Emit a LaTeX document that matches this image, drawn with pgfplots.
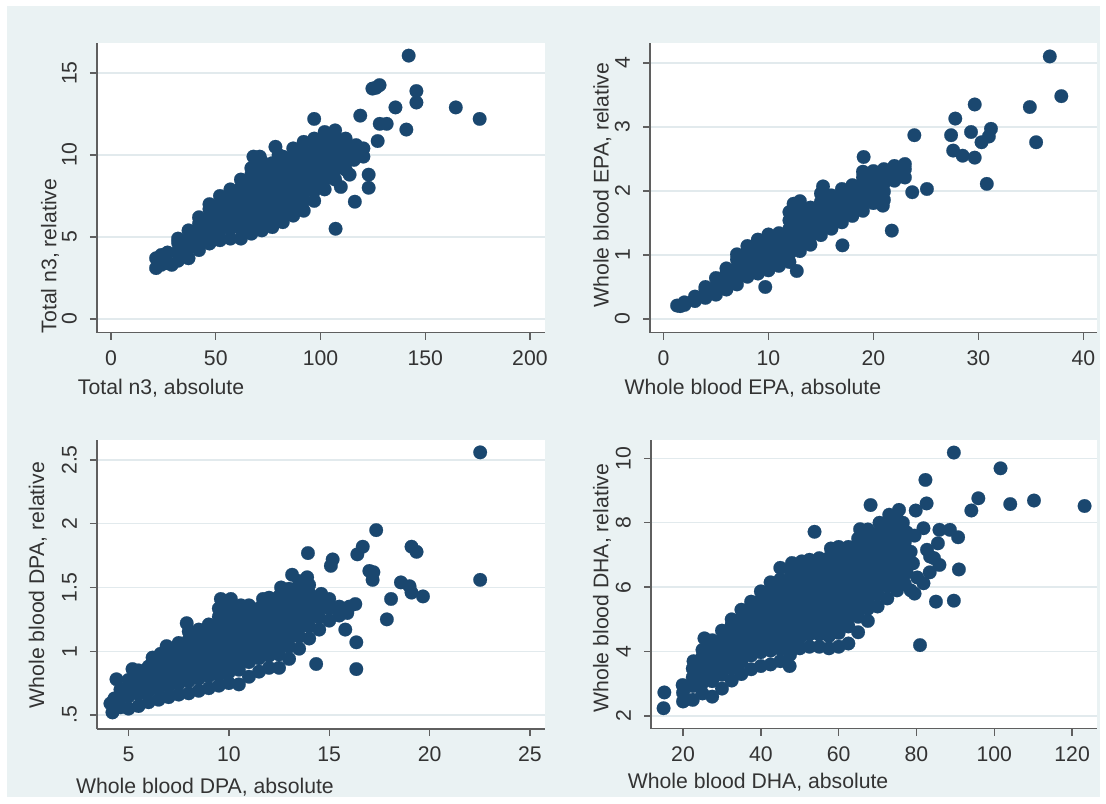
\documentclass[border=0pt]{standalone}
\usepackage{fontspec}
\setmainfont{Liberation Sans}
\usepackage{pgfplots}
\pgfplotsset{compat=1.18}

\definecolor{stnavy}{RGB}{26,71,111}
\definecolor{stbg}{RGB}{234,242,243}
\definecolor{stgrid}{RGB}{226,234,237}
\definecolor{staxis}{RGB}{95,95,95}

\pgfplotsset{
  stata/.style={
    scale only axis, clip=false,
    axis lines*=left,
    axis line style={staxis, line width=0.7pt, -},
    tick align=outside, major tick length=3.5pt,
    tick style={staxis, line width=0.7pt},
    ymajorgrids, major grid style={stgrid, line width=0.7pt},
    axis background/.style={fill=white},
    font=\fontsize{10.6}{12}\selectfont,
    tick label style={font=\fontsize{10.6}{12}\selectfont, text=black!80},
    label style={font=\fontsize{10.6}{12}\selectfont, text=black!80},
    /pgf/number format/assume math mode=true,
    yticklabel style={rotate=90, anchor=south},
    yticklabel shift=3pt, xticklabel shift=2pt,
  },
  dots/.style={only marks, mark=*, mark size=3.4pt, color=stnavy,
    mark options={fill=stnavy, draw=stnavy, line width=0.1pt}},
}

\begin{document}
\begin{tikzpicture}
\fill[white] (0,0) rectangle (553pt,401.5pt);
\fill[stbg] (3.5pt,3pt) rectangle (550pt,398.5pt);

% top left: total n3
\begin{axis}[stata, at={(48.5pt,235.15pt)}, anchor=south west,
  width=224pt, height=144.85pt,
  xmin=-6.7, xmax=207.2, ymin=-0.84, ymax=16.83,
  xtick={0,50,100,150,200}, ytick={0,5,10,15},
  xlabel={Total n3, absolute}, ylabel={Total n3, relative},
  xlabel style={at={(axis description cs:0.143,-0.19)}, anchor=center},
  ylabel style={at={(axis description cs:-0.105,0.265)}, anchor=center}]
\addplot[dots] coordinates {
 (21.5,3.1)(21.5,3.7)(24,3.3)(24,3.9)
 (27,3.4)(27,4.05)(29,3.3)
 (32,3.55)(32,4.15)(32,4.65)(32,4.9)
 (37,3.7)(37,4.35)(37,4.85)(37,5.4)
 (42,4.2)(42,4.8)(42,5.3)(42,5.8)(42,6.2)
 (47,4.6)(47,5.2)(47,5.7)(47,6.2)(47,6.7)(47,7.0)
 (52,4.8)(52,5.4)(52,5.9)(52,6.4)(52,6.9)(52,7.5)
 (57,4.9)(57,5.5)(57,6.0)(57,6.5)(57,7.0)(57,7.5)(57,7.9)
 (62,4.9)(62,5.5)(62,6.0)(62,6.5)(62,7.0)(62,7.5)(62,8.0)(62,8.5)
 (67,5.2)(67,5.8)(67,6.3)(67,6.8)(67,7.3)(67,7.8)(67,8.3)(67,8.8)(67,9.2)
 (68,9.9)(71,9.9)(72,9.6)
 (72,5.4)(72,6.0)(72,6.5)(72,7.0)(72,7.5)(72,8.0)(72,8.5)(72,9.0)
 (77,5.6)(77,6.2)(77,6.7)(77,7.2)(77,7.7)(77,8.2)(77,8.7)(77,9.2)(77,9.5)
 (78.5,10.5)(80,10.0)
 (82,5.9)(82,6.5)(82,7.0)(82,7.5)(82,8.0)(82,8.5)(82,9.0)(82,9.5)(82,9.9)
 (87,6.3)(87,6.9)(87,7.4)(87,7.9)(87,8.4)(87,8.9)(87,9.4)(87,9.9)(87,10.4)
 (92,6.6)(92,7.2)(92,7.7)(92,8.2)(92,8.7)(92,9.2)(92,9.7)(92,10.2)(92,10.8)
 (97,7.2)(97,7.8)(97,8.3)(97,8.8)(97,9.3)(97,9.8)(97,10.3)(97,10.8)(97,11.0)
 (97,12.2)
 (102,7.9)(102,8.5)(102,9.0)(102,9.5)(102,10.0)(102,10.5)(102,11.0)(102,11.4)
 (107,8.5)(107,9.1)(107,9.6)(107,10.1)(107,10.6)(107,11.1)(107,11.5)
 (112,9.1)(112,9.6)(112,10.1)(112,10.6)(112,11.0)
 (116,9.7)(116,10.2)(117,10.6)(120.5,10.4)(120.5,9.9)
 (107.2,5.5)(116.4,7.15)(113.9,8.8)(109.7,8.05)(123,8.8)(123,8.0)
 (127.3,10.85)(128.3,11.9)(131.6,11.9)(119,12.4)(124.8,14.05)(126.5,14.1)
 (128.2,14.26)(135.8,12.9)(141,11.55)(142.1,16.06)(145.8,13.9)(145.8,13.2)
 (164.6,12.9)(176,12.2)
};
\end{axis}

% top right: EPA
\begin{axis}[stata, at={(325pt,235.15pt)}, anchor=south west,
  width=223.5pt, height=144.85pt,
  xmin=-1.28, xmax=41.3, ymin=-0.214, ymax=4.31,
  xtick={0,10,20,30,40}, ytick={0,1,2,3,4},
  xlabel={Whole blood EPA, absolute}, ylabel={Whole blood EPA, relative},
  xlabel style={at={(axis description cs:0.23,-0.19)}, anchor=center},
  ylabel style={at={(axis description cs:-0.107,0.51)}, anchor=center}]
\addplot[dots] coordinates {
 (1.3,0.21)(1.6,0.2)(2,0.22)(2,0.26)(3,0.28)(3,0.35)
 (4,0.33)(4,0.46)(4,0.5)
 (5,0.38)(5,0.51)(5,0.64)
 (6,0.46)(6,0.59)(6,0.72)(6,0.79)
 (7,0.54)(7,0.67)(7,0.8)(7,0.93)(7,1.01)
 (8,0.66)(8,0.79)(8,0.92)(8,1.05)(8,1.14)
 (9,0.71)(9,0.84)(9,0.97)(9,1.1)(9,1.23)(9,1.24)
 (10,0.76)(10,0.89)(10,1.02)(10,1.15)(10,1.28)(10,1.32)
 (11,0.83)(11,0.96)(11,1.09)(11,1.22)(11,1.34)
 (12,0.89)(12,1.02)(12,1.15)(12,1.28)(12,1.41)(12,1.54)(12,1.67)(12.4,1.8)
 (13,1.06)(13,1.19)(13,1.32)(13,1.45)(13,1.58)(13,1.71)(13,1.84)
 (14,1.16)(14,1.29)(14,1.42)(14,1.55)(14,1.68)(14,1.74)
 (15,1.31)(15,1.44)(15,1.57)(15,1.7)(15,1.83)(15,1.96)(15.2,2.07)
 (16,1.41)(16,1.54)(16,1.67)(16,1.8)(16,1.93)
 (17,1.51)(17,1.64)(17,1.77)(17,1.9)(17,2.03)
 (18,1.61)(18,1.74)(18,1.87)(18,2.0)(18,2.09)
 (19,1.69)(19,1.82)(19,1.95)(19,2.08)(19,2.21)(19,2.3)(19.07,2.53)
 (20,1.81)(20,1.94)(20,2.07)(20,2.2)(20,2.31)
 (21,1.86)(21,1.99)(21,2.12)(21,2.25)(21,2.34)
 (22,2.16)(22,2.29)(22,2.39)
 (23,2.21)(23,2.34)(23,2.42)
 (9.7,0.5)(12.7,0.75)(17.05,1.15)(21.75,1.38)(20.9,1.77)(23.7,1.98)
 (25.1,2.03)(23.9,2.87)(27.4,2.87)(27.8,3.13)(27.6,2.63)(28.5,2.55)
 (29.3,2.92)(29.65,3.35)(29.65,2.52)(30.3,2.76)(31.2,2.97)(31.0,2.85)
 (30.8,2.11)(34.9,3.31)(35.5,2.76)(36.8,4.1)(37.9,3.48)
};
\end{axis}

% bottom left: DPA
\begin{axis}[stata, at={(48.5pt,37pt)}, anchor=south west,
  width=224pt, height=144.5pt,
  xmin=3.43, xmax=25.75, ymin=0.39, ymax=2.657,
  xtick={5,10,15,20,25}, ytick={0.5,1,1.5,2,2.5},
  yticklabels={.5,1,1.5,2,2.5},
  xlabel={Whole blood DPA, absolute}, ylabel={Whole blood DPA, relative},
  xlabel style={at={(axis description cs:0.241,-0.2)}, anchor=center},
  ylabel style={at={(axis description cs:-0.132,0.498)}, anchor=center}]
\addplot[dots] coordinates {
 (4.1,0.59)(4.2,0.52)(4.3,0.63)
 (4.6,0.56)(4.6,0.635)(4.6,0.7)(4.4,0.78)
 (5.0,0.55)(5.0,0.645)(5.0,0.71)(5.0,0.775)(5.2,0.86)
 (5.5,0.57)(5.5,0.665)(5.5,0.73)(5.5,0.795)(5.5,0.85)
 (6.0,0.6)(6.0,0.685)(6.0,0.75)(6.0,0.815)(6.0,0.88)(6.2,0.95)
 (6.5,0.62)(6.5,0.705)(6.5,0.77)(6.5,0.835)(6.5,0.9)(6.6,0.98)
 (7.0,0.64)(7.0,0.725)(7.0,0.79)(7.0,0.855)(7.0,0.92)(7.0,0.985)(6.9,1.04)
 (7.5,0.66)(7.5,0.745)(7.5,0.81)(7.5,0.875)(7.5,0.94)(7.5,1.005)(7.5,1.065)
 (8.0,0.67)(8.0,0.765)(8.0,0.83)(8.0,0.895)(8.0,0.96)(8.0,1.025)(8.0,1.09)(8.0,1.155)(7.9,1.22)
 (8.5,0.69)(8.5,0.785)(8.5,0.85)(8.5,0.915)(8.5,0.98)(8.5,1.045)(8.5,1.11)(8.5,1.17)
 (9.0,0.71)(9.0,0.805)(9.0,0.87)(9.0,0.935)(9.0,1.0)(9.0,1.065)(9.0,1.13)(9.0,1.21)
 (9.5,0.73)(9.5,0.815)(9.5,0.88)(9.5,0.945)(9.5,1.01)(9.5,1.075)(9.5,1.14)(9.5,1.205)(9.5,1.27)(9.5,1.335)(9.6,1.41)
 (10.0,0.75)(10.0,0.835)(10.0,0.9)(10.0,0.965)(10.0,1.03)(10.0,1.095)(10.0,1.16)(10.0,1.225)(10.0,1.29)(10.0,1.355)(10.1,1.41)
 (10.5,0.74)(10.5,0.855)(10.5,0.92)(10.5,0.985)(10.5,1.05)(10.5,1.115)(10.5,1.18)(10.5,1.245)(10.5,1.31)(10.6,1.36)
 (11.0,0.8)(11.0,0.915)(11.0,0.98)(11.0,1.045)(11.0,1.11)(11.0,1.175)(11.0,1.24)(11.0,1.305)(11.0,1.36)
 (11.5,0.84)(11.5,0.945)(11.5,1.01)(11.5,1.075)(11.5,1.14)(11.5,1.205)(11.5,1.27)(11.5,1.335)(11.7,1.41)
 (12.0,0.87)(12.0,0.965)(12.0,1.03)(12.0,1.095)(12.0,1.16)(12.0,1.225)(12.0,1.29)(12.0,1.355)(12.0,1.42)
 (12.5,0.87)(12.5,0.975)(12.5,1.04)(12.5,1.105)(12.5,1.17)(12.5,1.235)(12.5,1.3)(12.5,1.365)(12.5,1.43)(12.6,1.5)
 (13.0,0.94)(13.0,1.035)(13.0,1.1)(13.0,1.165)(13.0,1.23)(13.0,1.295)(13.0,1.36)(13.0,1.425)(13.0,1.49)(13.15,1.6)
 (13.5,1.02)(13.5,1.115)(13.5,1.18)(13.5,1.245)(13.5,1.31)(13.5,1.375)(13.5,1.44)(13.5,1.505)(13.5,1.55)
 (14.0,1.1)(14.0,1.195)(14.0,1.26)(14.0,1.325)(14.0,1.39)(14.0,1.455)(14.0,1.52)
 (14.5,1.17)(14.5,1.265)(14.5,1.33)(14.5,1.395)(14.6,1.45)
 (15.0,1.24)(15.0,1.335)(15.0,1.41)(15.5,1.28)(15.5,1.35)(16.0,1.35)(16.3,1.37)
 (13.94,1.77)(13.9,1.58)(14.35,0.9)(16.35,0.86)(16.35,1.07)(15.8,1.17)
 (15.9,1.3)(15.08,1.67)(15.17,1.72)(16.4,1.76)(16.67,1.82)(17.34,1.95)
 (17.0,1.63)(17.2,1.62)(17.16,1.56)(17.87,1.25)(18.08,1.41)(18.57,1.54)
 (19.0,1.51)(19.1,1.46)(19.1,1.82)(19.35,1.78)(19.67,1.43)
 (22.52,2.56)(22.52,1.56)
};
\end{axis}

% bottom right: DHA
\begin{axis}[stata, at={(325.5pt,37.25pt)}, anchor=south west,
  width=223pt, height=144.25pt,
  xmin=11.77, xmax=126.4, ymin=1.61, ymax=10.57,
  xtick={20,40,60,80,100,120}, ytick={2,4,6,8,10},
  xlabel={Whole blood DHA, absolute}, ylabel={Whole blood DHA, relative},
  xlabel style={at={(axis description cs:0.24,-0.185)}, anchor=center},
  ylabel style={at={(axis description cs:-0.11,0.487)}, anchor=center}]
\addplot[dots] coordinates {
 (15.0,2.24)(15.2,2.73)
 (20,2.45)(20,2.72)(19.9,2.96)(20.5,2.5)
 (22.5,2.5)(22.5,2.93)(22.5,3.2)(22.5,3.47)(22.7,3.7)
 (25,2.7)(25,3.03)(25,3.3)(25,3.57)(25,3.84)(25,4.05)(25.5,4.41)
 (27.5,2.6)(27.5,3.08)(27.5,3.35)(27.5,3.62)(27.5,3.89)(27.5,4.16)(27.5,4.35)
 (30,2.85)(30,3.28)(30,3.55)(30,3.82)(30,4.09)(30,4.36)(30,4.65)
 (32.5,3.1)(32.5,3.48)(32.5,3.75)(32.5,4.02)(32.5,4.29)(32.5,4.56)(32.5,4.83)(32.5,5.0)
 (35,3.3)(35,3.68)(35,3.95)(35,4.22)(35,4.49)(35,4.76)(35,5.03)(35,5.3)
 (37.5,3.45)(37.5,3.88)(37.5,4.15)(37.5,4.42)(37.5,4.69)(37.5,4.96)(37.5,5.23)(37.5,5.55)
 (40,3.55)(40,3.98)(40,4.25)(40,4.52)(40,4.79)(40,5.06)(40,5.33)(40,5.6)(40,5.87)
 (42.5,3.6)(42.5,4.03)(42.5,4.3)(42.5,4.57)(42.5,4.84)(42.5,5.11)(42.5,5.38)(42.5,5.65)(42.5,5.92)(42.5,6.15)
 (45,3.7)(45,4.08)(45,4.35)(45,4.62)(45,4.89)(45,5.16)(45,5.43)(45,5.7)(45,5.97)(45,6.24)(45,6.6)
 (47.4,3.55)(47.5,3.9)(47.5,4.1)(47.5,4.37)(47.5,4.64)(47.5,4.91)(47.5,5.18)(47.5,5.45)(47.5,5.72)(47.5,5.99)(47.5,6.26)(47.5,6.53)(48,6.75)
 (50,4.1)(50,4.43)(50,4.7)(50,4.97)(50,5.24)(50,5.51)(50,5.78)(50,6.05)(50,6.32)(50,6.59)(50.5,6.8)
 (52.5,4.15)(52.5,4.53)(52.5,4.8)(52.5,5.07)(52.5,5.34)(52.5,5.61)(52.5,5.88)(52.5,6.15)(52.5,6.42)(52.5,6.69)(52.5,6.85)
 (55,4.15)(55,4.53)(55,4.8)(55,5.07)(55,5.34)(55,5.61)(55,5.88)(55,6.15)(55,6.42)(55,6.69)(55,6.9)
 (57.5,4.1)(57.5,4.48)(57.5,4.75)(57.5,5.02)(57.5,5.29)(57.5,5.56)(57.5,5.83)(57.5,6.1)(57.5,6.37)(57.5,6.64)(57.5,6.91)(58,7.2)
 (60,4.15)(60,4.58)(60,4.85)(60,5.12)(60,5.39)(60,5.66)(60,5.93)(60,6.2)(60,6.47)(60,6.74)(60,7.01)(60,7.25)
 (62.5,4.25)(62.5,4.78)(62.5,5.05)(62.5,5.32)(62.5,5.59)(62.5,5.86)(62.5,6.13)(62.5,6.4)(62.5,6.67)(62.5,6.94)(62.5,7.25)
 (65,4.6)(65,5.08)(65,5.35)(65,5.62)(65,5.89)(65,6.16)(65,6.43)(65,6.7)(65,6.97)(65,7.24)(65,7.51)(65.5,7.8)
 (67.5,4.95)(67.5,5.33)(67.5,5.6)(67.5,5.87)(67.5,6.14)(67.5,6.41)(67.5,6.68)(67.5,6.95)(67.5,7.22)(67.5,7.49)(67.5,7.79)(68.2,8.55)
 (70,5.4)(70,5.78)(70,6.05)(70,6.32)(70,6.59)(70,6.86)(70,7.13)(70,7.4)(70,7.67)(70.5,8.0)
 (72.5,5.65)(72.5,6.03)(72.5,6.3)(72.5,6.57)(72.5,6.84)(72.5,7.11)(72.5,7.38)(72.5,7.65)(72.5,7.92)(73,8.25)
 (75,5.9)(75,6.23)(75,6.5)(75,6.77)(75,7.04)(75,7.31)(75,7.58)(75,7.85)(75,8.12)(75.5,8.4)
 (77,6.1)(77.5,6.45)(76.5,6.8)(77.5,7.1)(77,7.4)(77.5,7.7)(76.5,8.0)
 (53.8,7.72)(80.9,4.2)(85,5.55)(89.6,5.58)(90.9,6.55)(90.7,7.55)(88.6,7.78)
 (85.9,7.78)(81.8,7.83)(82.3,9.33)(82.6,8.6)(79.8,8.38)(89.6,10.18)(94.1,8.38)
 (95.9,8.76)(101.6,9.69)(104.1,8.58)(110.2,8.69)(123.2,8.52)(82.7,7.16)
 (83.5,6.95)(85.5,7.36)(85.9,6.69)(83.4,6.46)(81.8,6.12)(79.1,6.74)(78.5,7.1)
 (79.5,5.8)(80.2,6.3)(84.5,6.9)(79.5,7.6)(78.5,5.9)
};
\end{axis}
\end{tikzpicture}
\end{document}
